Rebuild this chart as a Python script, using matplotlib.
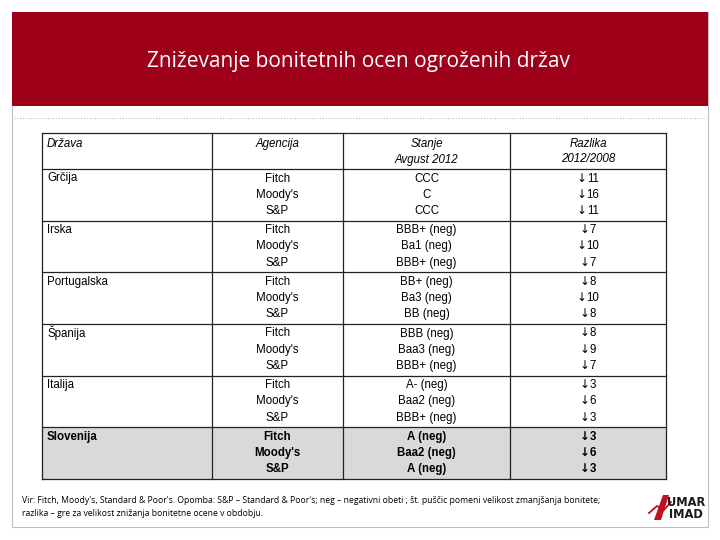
import matplotlib
matplotlib.use("Agg")
import matplotlib.pyplot as plt
from matplotlib.patches import Rectangle, Polygon

# ---- data ----
title = "Zniževanje bonitetnih ocen ogroženih držav"
col_headers = ["Država", "Agencija", "Stanje\nAvgust 2012", "Razlika\n2012/2008"]
countries = ["Grčija", "Irska", "Portugalska", "Španija", "Italija", "Slovenija"]
agencies = ["Fitch", "Moody's", "S&P"]
ratings = [
    ["CCC", "C", "CCC"],
    ["BBB+ (neg)", "Ba1 (neg)", "BBB+ (neg)"],
    ["BB+ (neg)", "Ba3 (neg)", "BB (neg)"],
    ["BBB (neg)", "Baa3 (neg)", "BBB+ (neg)"],
    ["A- (neg)", "Baa2 (neg)", "BBB+ (neg)"],
    ["A (neg)", "Baa2 (neg)", "A (neg)"],
]
downgrades = [
    [11, 16, 11],
    [7, 10, 7],
    [8, 10, 8],
    [8, 9, 7],
    [3, 6, 3],
    [3, 6, 3],
]
footnote = ("Vir: Fitch, Moody's, Standard & Poor's. Opomba: S&P – Standard & Poor's; neg – negativni obeti ; "
            "št. puščic pomeni velikost zmanjšanja bonitete;\n"
            "razlika – gre za velikost znižanja bonitetne ocene v obdobju.")

# ---- layout ----
W, H = 720, 540
fig = plt.figure(figsize=(7.2, 5.4), dpi=100)
ax = fig.add_axes([0, 0, 1, 1])
ax.set_xlim(0, W)
ax.set_ylim(H, 0)
ax.axis("off")
renderer = fig.canvas.get_renderer()

red = "#9E0019"
# outer slide frame
ax.add_patch(Rectangle((12, 12), 696, 515, fill=False, ec="#BFBFBF", lw=0.8))
# banner
ax.add_patch(Rectangle((12, 12), 696, 94, fc=red, ec="none"))
ax.text(358, 62, title, color="white", ha="center", va="center",
        fontsize=15, family=["Open Sans", "DejaVu Sans"])
# dotted separator
ax.plot([14, 706], [118, 118], color="#BBBBBB", lw=0.8, ls=(0, (1, 1.5)))

# table geometry
xs = [42, 212, 343, 510, 666]
top, head_bot = 133, 169
row_h = (479 - head_bot) / len(countries)
ys = [top, head_bot] + [head_bot + row_h * (i + 1) for i in range(len(countries))]

fam = ["Liberation Sans", "DejaVu Sans"]
fs = 8.3
line_dy = 16.2

# slovenija fill
ax.add_patch(Rectangle((xs[0], ys[-2]), xs[-1] - xs[0], ys[-1] - ys[-2], fc="#D9D9D9", ec="none"))

# header
for j, h in enumerate(col_headers):
    lines = h.split("\n")
    for k, ln in enumerate(lines):
        if j == 0:
            ax.text(xs[0] + 5, top + 14 + 15.5 * k, ln, ha="left", va="baseline",
                    fontsize=fs, style="italic", family=fam)
        else:
            ax.text((xs[j] + xs[j + 1]) / 2, top + 14 + 15.5 * k, ln, ha="center", va="baseline",
                    fontsize=fs, style="italic", family=fam)


def arrow_num(cx, yy, num, fw):
    t_num = ax.text(0, yy, str(num), ha="left", va="baseline", fontsize=fs, family=fam, fontweight=fw)
    t_arr = ax.text(0, yy, "↓", ha="left", va="baseline", fontsize=fs + 0.3,
                    family=["DejaVu Sans"], fontweight=fw)
    wn = t_num.get_window_extent(renderer).width
    wa = t_arr.get_window_extent(renderer).width - 0.5
    x0 = cx - (wn + wa) / 2
    t_arr.set_x(x0 - 0.5)
    t_num.set_x(x0 + wa)


# rows
for i, c in enumerate(countries):
    y0 = ys[i + 1]
    bold = (c == "Slovenija")
    fw = "bold" if bold else "normal"
    ax.text(xs[0] + 5, y0 + 12.5, c, ha="left", va="baseline", fontsize=fs, family=fam, fontweight=fw)
    for k in range(3):
        yy = y0 + 12.5 + line_dy * k
        ax.text((xs[1] + xs[2]) / 2, yy, agencies[k], ha="center", va="baseline",
                fontsize=fs, family=fam, fontweight=fw)
        ax.text((xs[2] + xs[3]) / 2, yy, ratings[i][k], ha="center", va="baseline",
                fontsize=fs, family=fam, fontweight=fw)
        arrow_num((xs[3] + xs[4]) / 2, yy, downgrades[i][k], fw)

# grid lines
lc = "#222222"
for y in ys:
    ax.plot([xs[0], xs[-1]], [y, y], color=lc, lw=0.9)
for x in xs:
    ax.plot([x, x], [ys[0], ys[-1]], color=lc, lw=0.9)

# footnote
ax.text(22, 507, footnote, ha="left", va="center", fontsize=6.2,
        family=["Open Sans", "DejaVu Sans"], linespacing=1.5)

# logo
ax.add_patch(Polygon([[654, 520], [663, 495], [669, 495], [661, 520]], closed=True, fc="#C0101E", ec="none"))
ax.plot([649, 657, 664, 671], [513, 506, 510, 502], color="#C0101E", lw=1.3)
ax.text(686, 502, "UMAR", ha="center", va="center", fontsize=8.3, fontweight="bold",
        family=["DejaVu Sans Condensed", "DejaVu Sans"], color="#1A1A1A")
ax.text(686, 514.5, "IMAD", ha="center", va="center", fontsize=8.3, fontweight="bold",
        family=["DejaVu Sans Condensed", "DejaVu Sans"], color="#1A1A1A")

fig.savefig("out.png", dpi=100)
